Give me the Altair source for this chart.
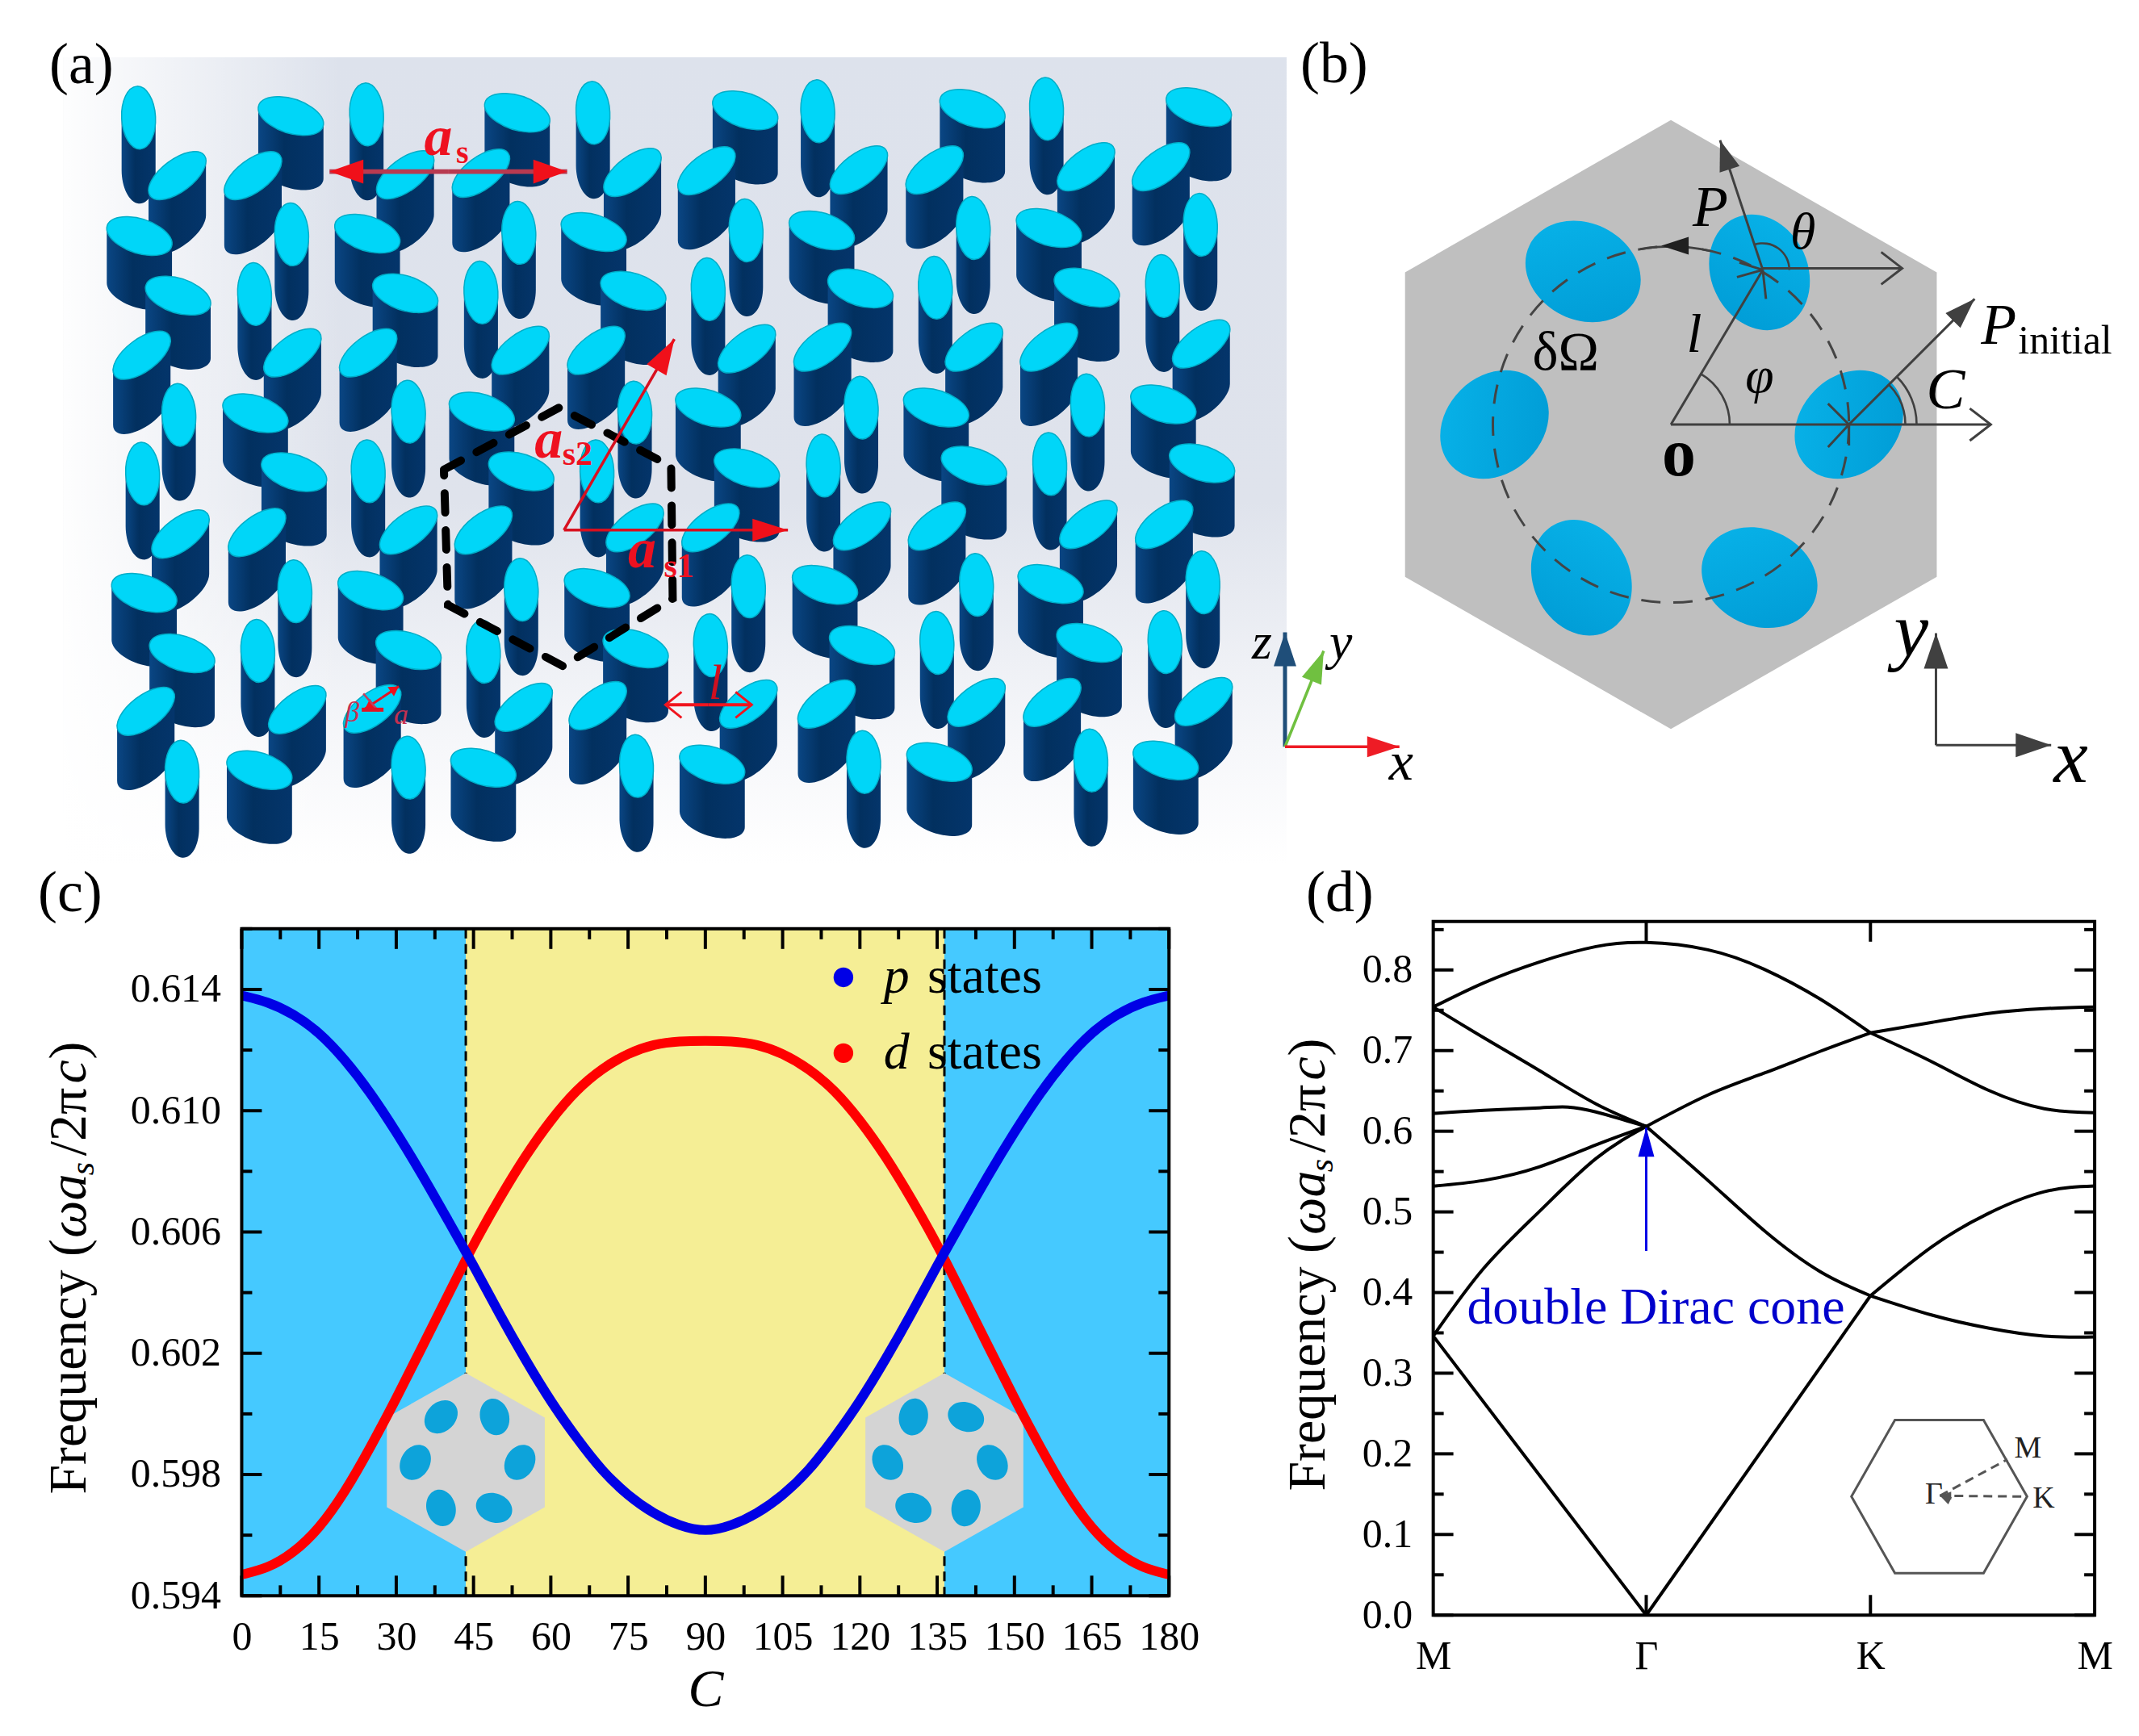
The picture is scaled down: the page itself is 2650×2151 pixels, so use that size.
import math
import altair as alt
import pandas as pd

SERIF = "Liberation Serif"

# ---------- panel (a): cylinder tops, read column by column, rows top to bottom
KIND_A = ["V", "U", "D", "D", "U", "V", "V", "U", "D", "D", "U", "V"]
KIND_B = ["D", "U", "V", "V", "U", "D", "D", "U", "V", "V", "U", "D"]
COL_X = [
    [168, 216, 169, 217, 172, 218, 173, 220, 175, 222, 177, 222],
    [357, 310, 358, 312, 359, 313, 361, 315, 362, 316, 365, 318],
    [451, 499, 452, 499, 453, 503, 453, 503, 456, 503, 458, 503],
    [638, 593, 640, 593, 642, 594, 643, 596, 643, 596, 646, 596],
    [732, 781, 733, 782, 736, 784, 737, 784, 737, 785, 738, 786],
    [921, 873, 922, 875, 923, 875, 923, 878, 925, 878, 925, 880],
    [1011, 1062, 1016, 1064, 1017, 1065, 1018, 1066, 1020, 1066, 1022, 1068],
    [1203, 1156, 1204, 1157, 1205, 1158, 1205, 1159, 1208, 1159, 1208, 1162],
    [1295, 1344, 1298, 1345, 1298, 1346, 1299, 1347, 1300, 1348, 1302, 1350],
    [1484, 1437, 1486, 1439, 1487, 1440, 1488, 1441, 1489, 1442, 1490, 1443],
]
COL_Y = [
    [143, 215, 290, 364, 438, 512, 585, 660, 733, 808, 880, 955],
    [141, 215, 288, 362, 435, 510, 583, 658, 731, 805, 878, 953],
    [139, 214, 287, 361, 435, 508, 582, 655, 730, 804, 877, 950],
    [137, 212, 286, 360, 432, 508, 582, 655, 729, 806, 875, 950],
    [137, 211, 285, 358, 432, 509, 582, 652, 727, 802, 873, 948],
    [134, 209, 283, 356, 430, 503, 578, 652, 725, 798, 871, 946],
    [135, 208, 283, 355, 428, 503, 575, 650, 723, 798, 871, 943],
    [132, 208, 280, 354, 428, 503, 575, 650, 723, 795, 869, 943],
    [132, 204, 280, 354, 428, 500, 573, 648, 722, 795, 869, 941],
    [130, 204, 276, 352, 424, 499, 572, 648, 720, 794, 868, 941],
]
HEX_A_X = [547, 690, 829, 831, 695, 552, 547]
HEX_A_Y = [580, 503, 576, 740, 824, 748, 580]

# ---------- panel (b)
HEX_B = (2070, 524, 330, 378)
DOT_B_X = [1961, 2180, 2291, 1851, 1959, 2180]
DOT_B_Y = [334, 335, 524, 524, 714, 714]
DOT_B_ANGLE = [26, 66, 315, 315, 66, 24]

# ---------- panel (c)
C_DEG = list(range(0, 185, 5))
P_STATE = [.6138, .6136, .6132, .6126, .6117, .6106, .6093, .6079, .6064, .6049, .6033, .6018, .6004,
           .5992, .5981, .5973, .5967, .5963, .5961, .5963, .5967, .5973, .5981, .5992, .6004, .6018,
           .6033, .6049, .6064, .6079, .6093, .6106, .6117, .6126, .6132, .6136, .6138]
D_STATE = [.5947, .5949, .5954, .5962, .5974, .5989, .6005, .6022, .6039, .6056, .6071, .6085, .6097,
           .6107, .6114, .6119, .6122, .6123, .6123, .6123, .6122, .6119, .6114, .6107, .6097, .6085,
           .6071, .6056, .6039, .6022, .6005, .5989, .5974, .5962, .5954, .5949, .5947]
C_BOUNDS = [43.5, 136.4]
C_DOT_X = [38.7, 49.1, 33.7, 54.0, 38.7, 49.0, 130.4, 140.6, 125.4, 145.7, 130.4, 140.6]
C_DOT_Y = [.5999, .5999, .5984, .5984, .5969, .5969, .5999, .5999, .5984, .5984, .5969, .5969]
C_DOT_A = [315, 75, 300, 300, 75, 20, 100, 20, 60, 60, 20, 100]

# ---------- panel (d): each band piece runs between the symmetry points
BANDS = {
    "b1a": ([0, .3220], [.346, 0]),
    "b1b": ([.3220, .6610], [0, .396]),
    "b1c": ([.6610, .7542, .8390, .9237, 1], [.396, .457, .498, .525, .532]),
    "b2a": ([0, .0763, .1610, .2458, .3220], [.346, .430, .501, .566, .606]),
    "b2b": ([.3220, .4153, .5000, .5847, .6610], [.606, .539, .477, .426, .396]),
    "b2c": ([.6610, .7542, .8390, .9237, 1], [.396, .372, .356, .346, .345]),
    "b3a": ([0, .0763, .1610, .2458, .3220], [.532, .539, .556, .583, .606]),
    "b3b": ([.3220, .4153, .5000, .5847, .6610], [.606, .645, .672, .699, .722]),
    "b3c": ([.6610, .7542, .8390, .9237, 1], [.722, .735, .746, .752, .754]),
    "b4a": ([0, .0763, .1610, .2034, .2458, .2881, .3220], [.622, .626, .629, .630, .624, .614, .606]),
    "b5a": ([0, .0763, .1610, .2458, .3220], [.754, .716, .675, .634, .606]),
    "b6a": ([0, .0763, .1610, .2458, .3220, .4153, .5000, .5847, .6610],
            [.754, .784, .810, .829, .834, .825, .801, .764, .722]),
    "b6b": ([.6610, .7542, .8390, .9237, 1], [.722, .686, .651, .628, .623]),
}
D_TICKS = [0, .3220, .6610, 1]

BODY_H = 68
ELLIPSES = {"V": (39, 21, 87), "U": (42, 20, -37), "D": (42, 21, 18)}


def top_path(a, b, deg):
    t = math.radians(deg)
    x, y = a * math.cos(t), a * math.sin(t)
    return f"M{x:.2f} {y:.2f}A{a} {b} {deg} 1 1 {-x:.2f} {-y:.2f}A{a} {b} {deg} 1 1 {x:.2f} {y:.2f}Z"


def body_path(a, b, deg, h):
    t = math.radians(deg)
    c, s = math.cos(t), math.sin(t)
    t0 = math.atan2(-b * s, a * c)
    px = a * math.cos(t0) * c - b * math.sin(t0) * s
    py = a * math.cos(t0) * s + b * math.sin(t0) * c
    return (f"M{-px:.2f} {-py:.2f}L{-px:.2f} {-py + h:.2f}"
            f"A{a} {b} {deg} 0 0 {px:.2f} {py + h:.2f}"
            f"L{px:.2f} {py:.2f}"
            f"A{a} {b} {deg} 0 0 {-px:.2f} {-py:.2f}Z")


def hex_path(w, h):
    return f"M0 {-h}L{w} {-h / 2}L{w} {h / 2}L0 {h}L{-w} {h / 2}L{-w} {-h / 2}Z"


def ell_path(a, b):
    return f"M{-a} 0A{a} {b} 0 1 1 {a} 0A{a} {b} 0 1 1 {-a} 0Z"


def head_path(l, w, closed=True):
    return f"M{-w} {l}L0 0L{w} {l}" + ("Z" if closed else "")


def frame(y0, y1, w):
    return alt.Chart(pd.DataFrame({"a": [0]})).mark_rect(fill="transparent", stroke="black", strokeWidth=4).encode(
        x=alt.value(0), x2=alt.value(w), y=alt.value(y0), y2=alt.value(y1))


# ================= top panel: (a) and (b), in reference pixels
SX = alt.Scale(domain=[8, 2642], range=[0, 2634], nice=False, zero=False)
SY = alt.Scale(domain=[8, 1141], range=[0, 1133], nice=False, zero=False)
TX = alt.X("x:Q", scale=SX, axis=None)
TY = alt.Y("y:Q", scale=SY, axis=None)


def tlines(rows, color, width, dash=None):
    df = pd.DataFrame(rows, columns=["x", "y", "x2", "y2"])
    kw = {"strokeDash": dash} if dash else {}
    return alt.Chart(df).mark_rule(color=color, strokeWidth=width, **kw).encode(x=TX, y=TY, x2="x2:Q", y2="y2:Q")


def theads(rows, color, l, w, closed=True, sw=3):
    recs = []
    for x1, y1, x2, y2 in rows:
        recs.append({"x": x2, "y": y2, "a": math.degrees(math.atan2(x2 - x1, -(y2 - y1))) % 360})
    df = pd.DataFrame(recs)
    if closed:
        m = alt.Chart(df).mark_point(shape=head_path(l, w), size=4, filled=True, opacity=1, color=color, strokeWidth=0)
    else:
        m = alt.Chart(df).mark_point(shape=head_path(l, w, False), size=4, filled=False, opacity=1, color=color,
                                     strokeWidth=sw)
    return m.encode(x=TX, y=TY, angle=alt.Angle("a:Q", scale=None))


def ttext(rows, color="black", style="normal", weight="normal", align="left"):
    df = pd.DataFrame(rows, columns=["x", "y", "t", "fs"])
    return alt.Chart(df).mark_text(font=SERIF, fontStyle=style, fontWeight=weight, color=color, align=align,
                                   baseline="alphabetic").encode(
        x=TX, y=TY, text="t:N", size=alt.Size("fs:Q", scale=None))


cyl = []
for r in range(12):
    for c in range(10):
        kinds = KIND_A if c % 2 == 0 else KIND_B
        cyl.append({"x": COL_X[c][r], "y": COL_Y[c][r], "k": kinds[r]})
cyl = pd.DataFrame(cyl)
KS = ["V", "U", "D"]

bg = alt.Chart(pd.DataFrame({"x": [75], "x2": [1593], "y": [68], "y2": [1070]})).mark_rect(
    color=alt.Gradient(gradient="linear", x1=0, y1=0, x2=0, y2=1, stops=[
        alt.GradientStop(offset=0, color="#dde2ec"),
        alt.GradientStop(offset=.55, color="#dfe3ec"),
        alt.GradientStop(offset=.85, color="#f6f7fa"),
        alt.GradientStop(offset=1, color="#ffffff")])
).encode(x=TX, y=TY, x2="x2:Q", y2="y2:Q")
bg2 = alt.Chart(pd.DataFrame({"x": [75], "x2": [420], "y": [68], "y2": [1070]})).mark_rect(
    color=alt.Gradient(gradient="linear", x1=0, y1=0, x2=1, y2=0, stops=[
        alt.GradientStop(offset=0, color="rgba(255,255,255,0.95)"),
        alt.GradientStop(offset=1, color="rgba(255,255,255,0)")])
).encode(x=TX, y=TY, x2="x2:Q", y2="y2:Q")

bodies = alt.Chart(cyl).mark_point(
    size=4, filled=True, opacity=1, strokeWidth=0,
    fill=alt.Gradient(gradient="linear", x1=0, y1=0, x2=1, y2=0, stops=[
        alt.GradientStop(offset=0, color="#0a4684"),
        alt.GradientStop(offset=.4, color="#02305f"),
        alt.GradientStop(offset=1, color="#04356b")])
).encode(x=TX, y=TY, shape=alt.Shape("k:N", legend=None, scale=alt.Scale(
    domain=KS, range=[body_path(*ELLIPSES[k], BODY_H) for k in KS])))
tops = alt.Chart(cyl).mark_point(size=4, filled=True, opacity=1, fill="#00d6f8", stroke="#00aec8", strokeWidth=1.5).encode(
    x=TX, y=TY, shape=alt.Shape("k:N", legend=None, scale=alt.Scale(
        domain=KS, range=[top_path(*ELLIPSES[k]) for k in KS])))
hex_a = alt.Chart(pd.DataFrame({"x": HEX_A_X, "y": HEX_A_Y, "o": range(7)})).mark_line(
    color="black", strokeWidth=10, strokeDash=[24, 22], strokeCap="round", clip=False
).encode(x=TX, y=TY, order="o:Q")

ARW_AS = [(553, 210, 405, 210), (553, 210, 700, 210)]
ARW_A12 = [(696, 655, 974, 655), (696, 655, 833, 418)]
ARW_L = [(875, 872, 822, 872), (875, 872, 929, 872)]
ARW_SM = [(470, 863, 449, 877), (470, 863, 491, 849)]
a_anno = [
    tlines(ARW_AS, "#b83a50", 6), theads(ARW_AS, "#f0101a", 42, 15),
    tlines(ARW_A12, "#d8101f", 3.5), theads(ARW_A12, "#f0101a", 44, 14),
    tlines(ARW_L, "#f0151f", 4), theads(ARW_L, "#f0151f", 20, 16, closed=False),
    tlines(ARW_SM, "#e01525", 3), theads(ARW_SM, "#f0101a", 12, 7),
    tlines([(447, 858, 466, 880)], "#c04060", 2.5),
    tlines([(445, 878, 472, 878)], "#e01525", 5),
    ttext([(540, 189, "a", 70), (677, 565, "a", 70), (793, 701, "a", 70)], "#ee1120", "italic", "bold", "center"),
    ttext([(562, 199, "s", 40), (694, 574, "s2", 42), (820, 713, "s1", 42)], "#ee1120", "normal", "bold"),
    ttext([(884, 865, "l", 62)], "#d01020", "italic", "normal", "center"),
    ttext([(433, 893, "β", 36), (494, 896, "a", 36)], "#c43050", "italic", "normal", "center"),
]
TRI_Z = [(1591, 924, 1591, 782)]
TRI_Y = [(1591, 924, 1639, 805)]
TRI_X = [(1591, 924, 1733, 924)]
tri_a = [
    tlines(TRI_Z, "#1f4e79", 5), theads(TRI_Z, "#1f4e79", 42, 14),
    tlines(TRI_Y, "#70c040", 3.5), theads(TRI_Y, "#70c040", 40, 13),
    tlines(TRI_X, "#ee1c25", 3.5), theads(TRI_X, "#ee1c25", 40, 13),
    ttext([(1550, 815, "z", 64), (1646, 815, "y", 64), (1720, 965, "x", 68)], "black", "italic"),
]

hx = alt.Chart(pd.DataFrame({"x": [HEX_B[0]], "y": [HEX_B[1]]})).mark_point(
    shape=hex_path(HEX_B[2], HEX_B[3]), size=4, filled=True, opacity=1, color="#bfbfbf", strokeWidth=0
).encode(x=TX, y=TY)
b_dots = alt.Chart(pd.DataFrame({"x": DOT_B_X, "y": DOT_B_Y, "a": DOT_B_ANGLE})).mark_point(
    shape=ell_path(74, 60), size=4, filled=True, opacity=1, strokeWidth=0,
    fill=alt.Gradient(gradient="linear", x1=0, y1=0, x2=1, y2=1, stops=[
        alt.GradientStop(offset=0, color="#08b4ea"),
        alt.GradientStop(offset=1, color="#009ad4")])
).encode(x=TX, y=TY, angle=alt.Angle("a:Q", scale=None))
b_circle = alt.Chart(pd.DataFrame({"x": [HEX_B[0]], "y": [HEX_B[1]]})).mark_point(
    shape="circle", size=(2 * 221) ** 2, filled=False, opacity=1, color="#444444", strokeWidth=3,
    strokeDash=[24, 16]).encode(x=TX, y=TY)
ARC_CX = [2070, 2291, 2291, 2184, 2070]
ARC_CY = [524, 524, 524, 332, 524]
ARC_R = [73, 84, 70, 33, 221]
ARC_T0 = [30, 45, 45, -18, -10]
ARC_T1 = [90, 90, 90, 90, 13]
arcs = alt.Chart(pd.DataFrame({
    "x": ARC_CX, "y": ARC_CY, "r": [v + 1.3 for v in ARC_R], "r2": [v - 1.3 for v in ARC_R],
    "t0": [math.radians(v) for v in ARC_T0], "t1": [math.radians(v) for v in ARC_T1]
})).mark_arc(color="#404040").encode(
    x=TX, y=TY, theta=alt.Theta("t0:Q", scale=None), theta2="t1:Q",
    radius=alt.Radius("r:Q", scale=None), radius2="r2:Q")
B_OPEN = [(2070, 524, 2467, 524), (2184, 330, 2357, 330)]
B_FILL = [(2184, 332, 2131, 171), (2291, 524, 2447, 368)]
B_LINES = [(2070, 524, 2184, 332), (2184, 332, 2155, 323), (2184, 332, 2152, 341), (2184, 332, 2188, 368),
           (2291, 524, 2265, 498), (2291, 524, 2265, 552), (2291, 524, 2291, 550)]
B_TRI = [(2399, 922, 2399, 783), (2399, 922, 2542, 922)]
b_anno = [
    tlines(B_LINES, "#404040", 3), tlines(B_OPEN, "#404040", 3), tlines(B_FILL, "#404040", 3),
    theads(B_OPEN, "#404040", 26, 20, closed=False), theads(B_FILL, "#404040", 38, 13),
    theads([(2092, 302, 2058, 302)], "#202020", 34, 11),
    tlines(B_TRI, "#404040", 3), theads(B_TRI, "#404040", 44, 15),
    ttext([(2119, 278, "P", 72), (2234, 306, "θ", 64), (2099, 434, "l", 68), (2180, 484, "φ", 64),
           (2411, 504, "C", 72)], "black", "italic", "normal", "center"),
    ttext([(2455, 424, "P", 72), (2347, 812, "y", 96), (2545, 968, "x", 96)], "black", "italic"),
    ttext([(2501, 436, "initial", 50), (1898, 456, "δΩ", 68)], "black"),
    ttext([(2080, 587, "o", 84)], "black", "normal", "bold", "center"),
]
labels = ttext([(97, 100, "(a)", 72), (1652, 99, "(b)", 72), (83, 1128, "(c)", 72), (1659, 1128, "(d)", 72)],
               "black", "normal", "normal", "center")

top = alt.layer(bg, bg2, bodies, tops, hex_a, *a_anno, *tri_a, hx, b_dots, b_circle, arcs, *b_anno, labels).properties(
    width=2634, height=1133).resolve_scale(shape="independent")


def title_parts(parts):
    """Pieces of a rotated axis title: plain text marks placed relative to the plot area."""
    out = []
    one = alt.Chart(pd.DataFrame({"a": [0]}))
    for px, py, txt, fs, st in parts:
        out.append(one.mark_text(text=txt, font=SERIF, fontSize=fs, fontStyle=st, angle=270, align="left",
                                 baseline="alphabetic", color="black").encode(x=alt.value(px), y=alt.value(py)))
    return out


# ================= panel (c): its plot area starts 9 px below the row's top edge
CW, CTOP, CBOT = 1151, 9, 837
XMAJ = list(range(0, 195, 15))
XMIN = [7.5 + 15 * i for i in range(12)]
YMAJ = [.594, .598, .602, .606, .610, .614]
YMIN = [.596, .600, .604, .608, .612, .616]
CX = alt.X("x:Q", scale=alt.Scale(domain=[0, 180], nice=False, zero=False), title="C", axis=alt.Axis(
    values=XMAJ, tickSize=0, domain=False, grid=False, labelFont=SERIF, labelFontSize=50, labelColor="black",
    labelPadding=26, labelOverlap=False, labelFlush=False, labelAngle=0, titleFont=SERIF, titleFontSize=66,
    titleFontStyle="italic", titleFontWeight="normal", titleColor="black", titlePadding=8))
CY = alt.Y("y:Q", scale=alt.Scale(domain=[.594, .616], range=[CBOT, CTOP], nice=False, zero=False), title=None,
           axis=alt.Axis(values=YMAJ, format=".3f", tickSize=0, domain=False, grid=False, labelFont=SERIF,
                         labelFontSize=50, labelColor="black", labelPadding=26, labelOverlap=False,
                         labelFlush=False))

c_bg = alt.Chart(pd.DataFrame({"x": [0, C_BOUNDS[0], C_BOUNDS[1]], "x2": [C_BOUNDS[0], C_BOUNDS[1], 180],
                               "c": ["#45c9ff", "#f5ee95", "#45c9ff"]})).mark_rect().encode(
    x=CX, x2="x2:Q", y=alt.value(CTOP), y2=alt.value(CBOT), color=alt.Color("c:N", scale=None))
c_dash = alt.Chart(pd.DataFrame({"x": C_BOUNDS})).mark_rule(color="black", strokeWidth=3, strokeDash=[12, 7]).encode(
    x=CX, y=alt.value(CTOP), y2=alt.value(CBOT))
c_hex = alt.Chart(pd.DataFrame({"x": C_BOUNDS, "y": [.5984, .5984]})).mark_point(
    shape=hex_path(98, 111), size=4, filled=True, opacity=1, color="#d4d4d4", strokeWidth=0).encode(x=CX, y=CY)
c_dots = alt.Chart(pd.DataFrame({"x": C_DOT_X, "y": C_DOT_Y, "a": C_DOT_A})).mark_point(
    shape=ell_path(23, 18), size=4, filled=True, opacity=1, color="#0da3da", strokeWidth=0).encode(
    x=CX, y=CY, angle=alt.Angle("a:Q", scale=None))


def xticks(vals, l, top_y, bot_y, xenc):
    d = pd.DataFrame({"x": vals})
    base = alt.Chart(d).mark_rule(color="black", strokeWidth=4)
    return [base.encode(x=xenc, y=alt.value(top_y), y2=alt.value(top_y + l)),
            base.encode(x=xenc, y=alt.value(bot_y - l), y2=alt.value(bot_y))]


def yticks(vals, l, w, yenc):
    d = pd.DataFrame({"y": vals})
    base = alt.Chart(d).mark_rule(color="black", strokeWidth=4)
    return [base.encode(y=yenc, x=alt.value(0), x2=alt.value(l)), base.encode(y=yenc, x=alt.value(w - l), x2=alt.value(w))]


c_curves = alt.Chart(pd.DataFrame({
    "x": C_DEG * 2, "y": D_STATE + P_STATE, "s": ["d"] * len(C_DEG) + ["p"] * len(C_DEG)
})).mark_line(strokeWidth=12, interpolate="basis", clip=True).encode(
    x=CX, y=CY, detail="s:N",
    color=alt.Color("s:N", legend=None, scale=alt.Scale(domain=["p", "d"], range=["#0000e6", "#ff0000"])))
c_leg = alt.Chart(pd.DataFrame({"x": [116.8, 116.8], "y": [.6144, .6119], "c": ["#0000e6", "#ff0000"]})).mark_circle(
    size=600, opacity=1).encode(x=CX, y=CY, color=alt.Color("c:N", scale=None))
c_tx1 = alt.Chart(pd.DataFrame({"x": [124.6, 124.6], "y": [.6139, .6114], "t": ["p", "d"]})).mark_text(
    font=SERIF, fontStyle="italic", fontSize=64, align="left", baseline="alphabetic", color="black").encode(
    x=CX, y=CY, text="t:N")
c_tx2 = alt.Chart(pd.DataFrame({"x": [133.1, 133.1], "y": [.6139, .6114], "t": ["states", "states"]})).mark_text(
    font=SERIF, fontSize=64, align="left", baseline="alphabetic", color="black").encode(
    x=CX, y=CY, text="t:N")

C_T = [(102 - 296, 1852 - 1141, "Frequency (", 66, "normal"), (102 - 296, 1534 - 1141, "ωa", 66, "italic"),
       (112 - 296, 1456 - 1141, "s", 42, "italic"), (102 - 296, 1432 - 1141, "/2π", 66, "normal"),
       (102 - 296, 1342 - 1141, "c", 66, "italic"), (102 - 296, 1312 - 1141, ")", 66, "normal")]

panel_c = alt.layer(
    c_bg, c_dash, c_hex, c_dots,
    *xticks(XMAJ, 25, CTOP, CBOT, CX), *xticks(XMIN, 13, CTOP, CBOT, CX),
    *yticks(YMAJ, 25, CW, CY), *yticks(YMIN, 13, CW, CY),
    c_curves, c_leg, c_tx1, c_tx2, frame(CTOP, CBOT, CW), *title_parts(C_T)
).properties(width=CW, height=CBOT)

# ================= panel (d)
DW, DH = 821, 861
DYMAJ = [0, .1, .2, .3, .4, .5, .6, .7, .8]
DYMIN = [.05, .15, .25, .35, .45, .55, .65, .75, .85]
DX = alt.X("x:Q", scale=alt.Scale(domain=[0, 1], nice=False, zero=False), title=None, axis=alt.Axis(
    values=D_TICKS, tickSize=0, domain=False, grid=False, labelFont=SERIF, labelFontSize=50, labelColor="black",
    labelPadding=26, labelOverlap=False, labelFlush=False, labelAngle=0,
    labelExpr="datum.value < 0.1 || datum.value > 0.9 ? 'M' : (datum.value < 0.5 ? 'Γ' : 'K')"))
DY = alt.Y("y:Q", scale=alt.Scale(domain=[0, .86], nice=False, zero=False), title=None, axis=alt.Axis(
    values=DYMAJ, format=".1f", tickSize=0, domain=False, grid=False, labelFont=SERIF, labelFontSize=50,
    labelColor="black", labelPadding=26, labelOverlap=False, labelFlush=False))

d_recs = []
for name, (ks, fs) in BANDS.items():
    for k, f in zip(ks, fs):
        d_recs.append({"x": k, "y": f, "b": name})
d_lines = alt.Chart(pd.DataFrame(d_recs)).mark_line(color="black", strokeWidth=4, interpolate="natural").encode(
    x=DX, y=DY, detail="b:N")
d_rule = alt.Chart(pd.DataFrame({"x": [.3220], "y": [.4516], "y2": [.6044]})).mark_rule(
    color="#0000e6", strokeWidth=3).encode(x=DX, y=DY, y2="y2:Q")
d_head = alt.Chart(pd.DataFrame({"x": [.3220], "y": [.6044]})).mark_point(
    shape=head_path(36, 10), size=4, filled=True, opacity=1, color="#0000e6", strokeWidth=0).encode(x=DX, y=DY)
d_text = alt.Chart(pd.DataFrame({"x": [.051], "y": [.3616], "t": ["double Dirac cone"]})).mark_text(
    font=SERIF, fontSize=64, align="left", baseline="alphabetic", color="#0000cc").encode(x=DX, y=DY, text="t:N")
d_hex = alt.Chart(pd.DataFrame({"x": [.765], "y": [.147]})).mark_point(
    shape="M-55 -95L55 -95L109 0L55 95L-55 95L-109 0Z", size=4, filled=False, opacity=1, color="#555555",
    strokeWidth=3).encode(x=DX, y=DY)
d_dash = alt.Chart(pd.DataFrame({"x": [.766, .766], "y": [.148, .148], "x2": [.898, .868], "y2": [.147, .193]})).mark_rule(
    color="#555555", strokeWidth=3, strokeDash=[11, 7]).encode(x=DX, y=DY, x2="x2:Q", y2="y2:Q")
d_tips = alt.Chart(pd.DataFrame({"x": [.766, .766], "y": [.148, .148], "a": [270, 296]})).mark_point(
    shape=head_path(14, 5), size=4, filled=True, opacity=1, color="#555555", strokeWidth=0).encode(
    x=DX, y=DY, angle=alt.Angle("a:Q", scale=None))
d_bz = alt.Chart(pd.DataFrame({"x": [.899, .757, .923], "y": [.195, .138, .133], "t": ["M", "Γ", "K"]})).mark_text(
    font=SERIF, fontSize=38, align="center", baseline="alphabetic", color="#222222").encode(x=DX, y=DY, text="t:N")
D_T = [(1640 - 1775, 1848 - 1141, "Frequency (", 66, "normal"), (1640 - 1775, 1530 - 1141, "ωa", 66, "italic"),
       (1650 - 1775, 1452 - 1141, "s", 42, "italic"), (1640 - 1775, 1428 - 1141, "/2π", 66, "normal"),
       (1640 - 1775, 1338 - 1141, "c", 66, "italic"), (1640 - 1775, 1308 - 1141, ")", 66, "normal")]

panel_d = alt.layer(
    d_hex, d_dash, d_tips, d_bz,
    *xticks(D_TICKS[1:3], 25, 0, DH, DX), *yticks(DYMAJ, 25, DW, DY), *yticks(DYMIN, 13, DW, DY),
    d_lines, d_rule, d_head, d_text, frame(0, DH, DW), *title_parts(D_T)
).properties(width=DW, height=DH)


def spacer(w, h):
    return alt.Chart(pd.DataFrame({"a": [0]})).mark_point(opacity=0).encode(
        x=alt.value(0), y=alt.value(0)).properties(width=w, height=h)


row2 = alt.hconcat(spacer(288, 10), panel_c, spacer(328, 10), panel_d, spacing=0, bounds="flush")
chart = alt.vconcat(top, row2, spacing=0, bounds="flush").properties(padding=0).configure_view(stroke="transparent")
chart.save("out.html", embed_options={"renderer": "svg", "actions": False})
